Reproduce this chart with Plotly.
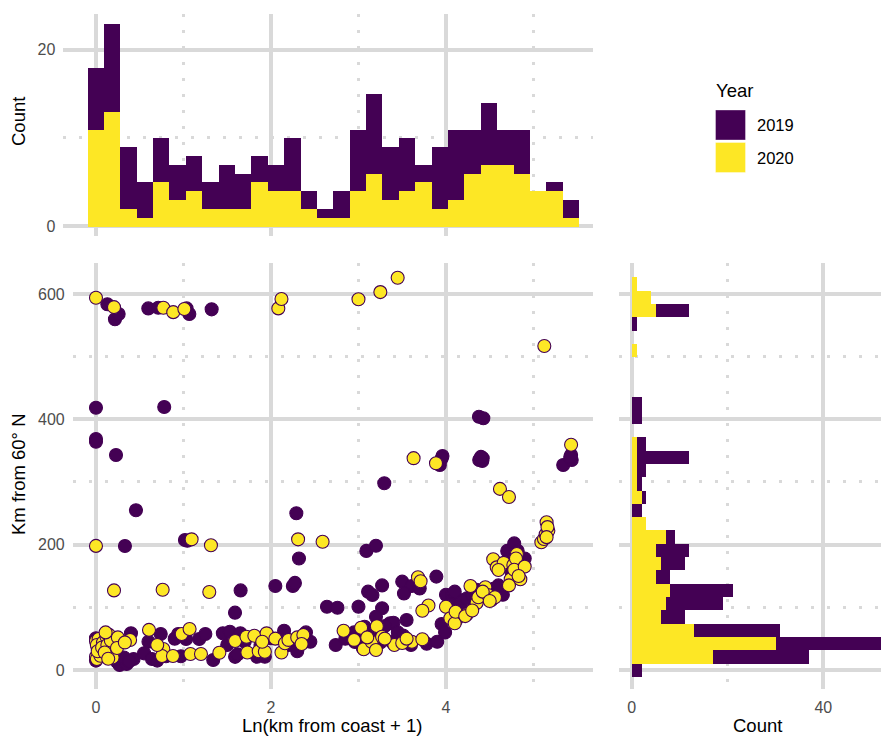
import plotly.graph_objects as go

# ---------------------------------------------------------------------------
# Data
# ---------------------------------------------------------------------------
years = ["2019", "2020"]

# Marginal histogram of Ln(km from coast + 1): 30 bins, centred on multiples of the width
x_bin_width = 0.1873
x_counts_2019 = [7, 10, 7, 4, 5, 4, 4, 3, 5, 4, 3, 3, 6, 2, 1,
                 3, 7, 9, 6, 6, 2, 7, 8, 5, 7, 4, 5, 0, 1, 2]
x_counts_2020 = [11, 13, 2, 1, 5, 3, 4, 2, 2, 2, 5, 4, 4, 2, 1,
                 1, 4, 6, 3, 4, 5, 2, 3, 6, 7, 7, 6, 4, 4, 1]

# Marginal histogram of km from 60° N: 30 bins, centred on multiples of the width
y_bin_width = 21.25
y_counts_2019 = [2, 20, 22, 18, 5, 12, 13, 3, 5, 7, 2, 0, 2, 1, 1,
                 2, 11, 2, 0, 2, 2, 0, 0, 0, 0, 0, 1, 7, 0, 0]
y_counts_2020 = [0, 17, 30, 13, 6, 7, 8, 5, 6, 5, 7, 3, 0, 2, 1,
                 1, 1, 1, 0, 0, 0, 0, 0, 0, 1, 0, 0, 5, 4, 1]

# Sites sampled in 2019: (ln distance from coast + 1, km from 60° N)
sites_2019 = [
    (0, 418.5), (0, 368.6), (0, 364.3), (0, 50.6), (0.05, 24), (0.02, 35), (0.0, 15),
    (0.13, 583.5), (0.217, 559.6), (0.259, 568), (0.229, 343), (0.24, 13), (0.27, 8),
    (0.2, 25), (0.15, 30), (0.22, 18), (0.12, 45),
    (0.331, 197.9), (0.35, 9.6), (0.43, 17.6), (0.4, 58.5), (0.32, 20), (0.38, 14), (0.457, 255),
    (0.598, 577), (0.6, 45), (0.55, 26.6), (0.64, 17.6),
    (0.712, 578), (0.78, 419.7), (0.74, 57.4), (0.8, 22), (0.7, 15),
    (0.94, 57.4), (1.017, 207.4), (0.9, 50), (0.97, 22),
    (1.036, 577), (1.044, 206.3), (1.067, 568), (1.03, 49.5), (1.18, 49.5),
    (1.322, 575.5), (1.25, 57.4), (1.34, 16),
    (1.45, 58.5), (1.53, 61), (1.589, 91.5), (1.5, 40), (1.59, 21),
    (1.653, 127), (1.65, 58.5), (1.7, 45), (1.62, 25),
    (1.84, 21.2), (1.93, 21.2), (1.88, 40),
    (2.0, 50.6), (2.05, 134), (2.15, 62.7),
    (2.25, 134), (2.274, 139), (2.29, 250), (2.32, 178), (2.2, 40), (2.3, 30),
    (2.4, 60), (2.45, 45),
    (2.64, 101),
    (2.76, 99.4), (2.74, 40), (2.85, 50),
    (3.0, 101), (2.96, 44.7), (3.04, 45), (3.07, 69), (2.95, 60), (3.05, 35),
    (3.09, 190), (3.2, 198.3), (3.11, 125), (3.16, 119.7), (3.27, 135), (3.25, 44),
    (3.27, 98.5), (3.15, 60), (3.2, 85),
    (3.295, 298), (3.36, 74.5), (3.4, 75.5), (3.3, 70), (3.38, 45), (3.45, 60),
    (3.5, 141), (3.61, 134), (3.52, 122), (3.55, 79.8), (3.51, 55), (3.6, 40),
    (3.78, 42), (3.7, 130),
    (3.96, 341.5), (3.93, 327), (3.89, 149), (3.95, 73.4), (3.9, 45), (4.0, 120),
    (3.99, 60), (3.95, 337),
    (4.07, 119.7), (4.09, 114.4), (4.16, 111.7), (4.1, 125), (4.05, 105), (4.15, 100),
    (4.2, 95), (4.12, 80),
    (4.377, 404), (4.39, 336.7), (4.24, 114.4), (4.3, 120), (4.35, 128), (4.38, 335),
    (4.427, 401.6), (4.415, 333.5), (4.52, 111.7), (4.42, 338), (4.5, 125), (4.55, 130),
    (4.4, 340),
    (4.7, 190), (4.65, 120), (4.6, 135), (4.75, 155),
    (4.78, 202), (4.85, 171), (4.82, 190), (4.8, 150), (4.9, 178),
    (5.34, 327),
    (5.43, 343), (5.437, 335), (5.42, 340),
]

# Sites sampled in 2020
sites_2020 = [
    (0, 594), (0, 198), (0, 46), (0.03, 49.5), (0.01, 40), (0.08, 44), (0, 21),
    (0.01, 17.6), (0.05, 22.8), (0.02, 30), (0.07, 36),
    (0.206, 579), (0.206, 127), (0.12, 53), (0.15, 56), (0.22, 44), (0.19, 20),
    (0.13, 40), (0.1, 28), (0.17, 47), (0.25, 52), (0.14, 18), (0.24, 35), (0.11, 60),
    (0.39, 48), (0.33, 44),
    (0.606, 64),
    (0.77, 578), (0.762, 128), (0.77, 33.5), (0.754, 22.3), (0.7, 40),
    (0.883, 571), (0.88, 22.3), (0.98, 57.4), (1.01, 576),
    (1.093, 208.5), (1.07, 65.4), (1.08, 25.5), (1.2, 25.5),
    (1.314, 199), (1.295, 124.5),
    (1.41, 27.6), (1.59, 46.3),
    (1.72, 53), (1.73, 28),
    (1.81, 54.7), (1.86, 30), (1.93, 29), (1.95, 58.5), (1.9, 45),
    (2.084, 577), (2.12, 592), (2.12, 28), (2.05, 50),
    (2.16, 42.6), (2.31, 208.5), (2.2, 48), (2.3, 52),
    (2.37, 56), (2.35, 41.5),
    (2.59, 204.7),
    (2.83, 62.7),
    (3.0, 591.5), (3.03, 67.5), (3.06, 33), (2.95, 48),
    (3.25, 603), (3.21, 70), (3.15, 45), (3.2, 32), (3.1, 52), (3.27, 53),
    (3.448, 626), (3.41, 40), (3.3, 50),
    (3.63, 338), (3.61, 45), (3.5, 43), (3.55, 50),
    (3.68, 148), (3.71, 141.5), (3.8, 103), (3.73, 94.6), (3.73, 49),
    (3.886, 330), (4.0, 101),
    (4.05, 82.5), (4.1, 74.5), (4.11, 93),
    (4.24, 89), (4.22, 86), (4.28, 134), (4.35, 107), (4.37, 116), (4.3, 95),
    (4.45, 132), (4.48, 119.7), (4.56, 116), (4.54, 176.6), (4.58, 163.8), (4.42, 125),
    (4.5, 110),
    (4.617, 289), (4.72, 276), (4.66, 171), (4.6, 159.6), (4.74, 144.7), (4.72, 135),
    (4.77, 167.5),
    (4.81, 185), (4.85, 144.7), (4.8, 178), (4.78, 160), (4.9, 165), (4.83, 150),
    (5.124, 517), (5.09, 203.8), (5.12, 209), (5.14, 216.5),
    (5.15, 235.7), (5.17, 222), (5.16, 228), (5.15, 212),
    (5.43, 359.5),
]

# ---------------------------------------------------------------------------
# Styling
# ---------------------------------------------------------------------------
W, H = 881, 736
PURPLE = "#440154"
YELLOW = "#FDE725"
GRID = "#D9D9D9"
TICK_GREY = "#4D4D4D"
FONT = "Liberation Sans, Arial, sans-serif"
TICK_SIZE = 16
TITLE_SIZE = 18.5
colors = {"2019": PURPLE, "2020": YELLOW}


def px_x(px):
    return px / W


def px_y(py):
    return 1 - py / H


def axis_style(dtick, minor_dtick, rng, domain, anchor, labels=True):
    return dict(
        domain=domain, range=rng, anchor=anchor,
        tick0=0, dtick=dtick, ticks="", showticklabels=labels,
        tickfont=dict(family=FONT, size=TICK_SIZE, color=TICK_GREY),
        ticklabelstandoff=7,
        showgrid=True, gridcolor=GRID, gridwidth=3.5,
        zeroline=False, showline=False,
        minor=dict(dtick=minor_dtick, tick0=0, showgrid=True, gridcolor=GRID,
                   gridwidth=3, griddash="3px,13px", ticks=""),
    )


fig = go.Figure()

# Top marginal: stacked histogram (2020 at the base, 2019 above)
x_centres = [i * x_bin_width for i in range(len(x_counts_2019))]
for yr, counts in (("2020", x_counts_2020), ("2019", x_counts_2019)):
    fig.add_trace(go.Bar(
        x=x_centres, y=counts, width=x_bin_width, name=yr,
        marker=dict(color=colors[yr], line=dict(width=0)),
        xaxis="x2", yaxis="y2", showlegend=False,
    ))

# Right marginal: horizontal stacked histogram
y_centres = [k * y_bin_width for k in range(len(y_counts_2019))]
for yr, counts in (("2020", y_counts_2020), ("2019", y_counts_2019)):
    fig.add_trace(go.Bar(
        y=y_centres, x=counts, width=y_bin_width, orientation="h", name=yr,
        marker=dict(color=colors[yr], line=dict(width=0)),
        xaxis="x3", yaxis="y3", showlegend=False,
    ))

# Main scatter
for yr, pts in (("2019", sites_2019), ("2020", sites_2020)):
    fig.add_trace(go.Scatter(
        x=[p[0] for p in pts], y=[p[1] for p in pts], mode="markers", name=yr,
        marker=dict(size=13, color=colors[yr], line=dict(color=PURPLE, width=1.1)),
        xaxis="x", yaxis="y", showlegend=False,
    ))

scatter_y_dom = [px_y(689.3), px_y(262.7)]
fig.update_layout(
    width=W, height=H,
    margin=dict(l=0, r=0, t=0, b=0),
    paper_bgcolor="white", plot_bgcolor="white",
    barmode="stack", bargap=0,
    font=dict(family=FONT),
    xaxis=axis_style(2, 1, [-0.266, 5.677], [px_x(72.7), px_x(592.7)], "y"),
    yaxis=axis_style(200, 100, [-30.8, 649.9], scatter_y_dom, "x"),
    xaxis2=axis_style(2, 1, [-0.3737, 5.677], [px_x(63.3), px_x(592.7)], "y2", labels=False),
    yaxis2=axis_style(20, 10, [-1.14, 24.1], [px_y(236.1), px_y(13.5)], "x2"),
    xaxis3=axis_style(40, 20, [-2.71, 52.05], [px_x(618.7), 1.0], "y3"),
    yaxis3=axis_style(200, 100, [-30.8, 649.9], scatter_y_dom, "x3", labels=False),
)

# Axis titles
title_font = dict(family=FONT, size=TITLE_SIZE, color="black")
titles = [
    ("Count", 18, 122, -90),
    ("Km from 60° N", 18, 474, -90),
    ("Ln(km from coast + 1)", 332, 725, 0),
    ("Count", 757, 725, 0),
]
for text, ax, ay, angle in titles:
    fig.add_annotation(text=text, x=px_x(ax), y=px_y(ay), xref="paper", yref="paper",
                       xanchor="center", yanchor="middle", textangle=angle,
                       showarrow=False, font=title_font)

# Legend
fig.add_annotation(text="Year", x=px_x(714), y=px_y(91), xref="paper", yref="paper",
                   xanchor="left", yanchor="middle", showarrow=False, font=title_font)
for i, yr in enumerate(years):
    top = 110 + i * 32.5
    fig.add_shape(type="rect", xref="paper", yref="paper",
                  x0=px_x(715.5), x1=px_x(745.5), y0=px_y(top + 30), y1=px_y(top),
                  fillcolor=colors[yr], line=dict(color="rgba(255,255,255,0.6)", width=0.6))
    fig.add_annotation(text=yr, x=px_x(755), y=px_y(top + 15.5), xref="paper", yref="paper",
                       xanchor="left", yanchor="middle", showarrow=False,
                       font=dict(family=FONT, size=16.5, color="black"))

fig.write_html("out.html")
